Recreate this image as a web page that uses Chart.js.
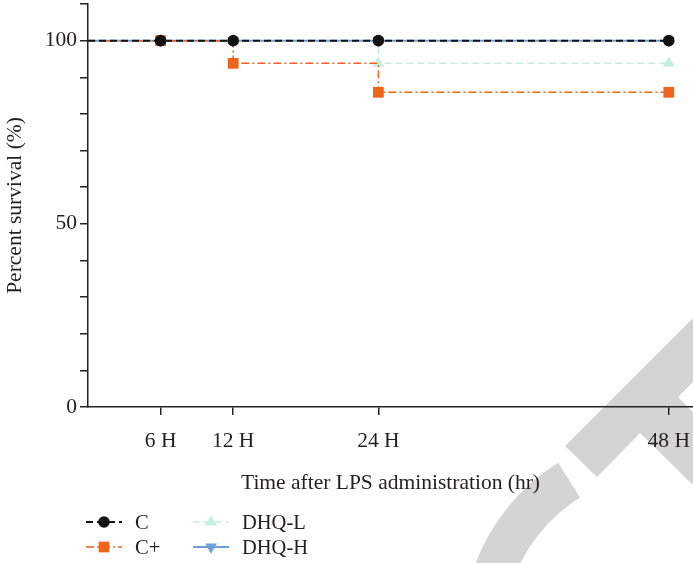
<!DOCTYPE html>
<html>
<head>
<meta charset="utf-8">
<script src="https://cdn.jsdelivr.net/npm/chart.js@4"></script>
<style>
  html, body { margin: 0; padding: 0; background: #fff; }
  #wrap { position: relative; width: 693px; height: 563px; overflow: hidden; }
  #chart { position: absolute; left: 0; top: 0; }
  .lg-item { position: absolute; display: flex; align-items: center; height: 24px;
             font-family: 'Liberation Serif', 'DejaVu Serif', serif; font-size: 20.5px; color: #231f20; }
  .lg-item canvas { display: block; margin-right: 13px; }
</style>
</head>
<body>
<div id="wrap">
  <canvas id="chart" width="693" height="563"></canvas>
  <div id="legend"></div>
</div>
<script>
// ── datos ──
const hours      = [0, 6, 12, 24, 48];
const tickHours  = [6, 12, 24, 48];
const yLabelVals = [0, 50, 100];
const seriesNames = ['C', 'C+', 'DHQ-L', 'DHQ-H'];
const survC      = [100, 100, 100, 100, 100];
const survCplus  = [100, 100, 93.8, 85.9, 85.9];
const survDhqL   = [100, 100, 100, 93.8, 93.8];
const survDhqH   = [100, 100, 100, 100, 100];

const FONT = "'Liberation Serif', 'DejaVu Serif', serif";
const INK  = '#231f20';

const pts = vals => hours.map((h, i) => ({ x: h, y: vals[i] }));
const radii = r => hours.map(h => (h === 0 ? 0 : r));

const styles = [
  { color: '#111111', dash: [7, 4],        width: 2,   point: 'circle',   r: 5.8, rot: 0 },
  { color: '#f0641c', dash: [8, 3, 2, 3],  width: 1.5, point: 'rect',     r: 7.6, rot: 0 },
  { color: '#c4efdf', dash: [7, 4],        width: 1.5, point: 'triangle', r: 6.8, rot: 0 },
  { color: '#6b9fd6', dash: [],            width: 2,   point: 'triangle', r: 6.8, rot: 180 }
];
const series = [survC, survCplus, survDhqL, survDhqH];

const datasets = series.map((vals, i) => ({
  label: seriesNames[i],
  data: pts(vals),
  stepped: true,
  borderColor: styles[i].color,
  backgroundColor: styles[i].color,
  borderWidth: styles[i].width,
  borderDash: styles[i].dash,
  pointStyle: styles[i].point,
  pointRotation: styles[i].rot,
  pointRadius: radii(styles[i].r),
  pointBorderWidth: 0,
  pointBackgroundColor: styles[i].color,
  clip: false
}));

// marca de agua gris (decorativa)
const watermark = {
  id: 'watermark',
  beforeDraw(chart) {
    const ctx = chart.ctx;
    ctx.save();
    ctx.fillStyle = '#d4d4d4';
    ctx.beginPath();
    ctx.moveTo(565, 446);
    ctx.lineTo(693, 318);
    ctx.lineTo(693, 382);
    ctx.lineTo(678, 397);
    ctx.lineTo(693, 412);
    ctx.lineTo(693, 485);
    ctx.lineTo(640, 433);
    ctx.lineTo(597, 477);
    ctx.closePath();
    ctx.fill();
    ctx.strokeStyle = '#d4d4d4';
    ctx.lineWidth = 41;
    ctx.beginPath();
    ctx.arc(668, 637, 185.5, Math.PI * 0.8, Math.PI * 1.321);
    ctx.stroke();
    ctx.restore();
  }
};

const chart = new Chart(document.getElementById('chart'), {
  type: 'line',
  data: { datasets },
  plugins: [watermark],
  options: {
    responsive: false,
    animation: false,
    layout: { autoPadding: false, padding: { top: 4, right: 0, bottom: 0, left: 0 } },
    plugins: { legend: { display: false }, tooltip: { enabled: false } },
    scales: {
      x: {
        type: 'linear',
        min: 0,
        max: 50,
        afterBuildTicks: s => { s.ticks = tickHours.map(v => ({ value: v })); },
        afterFit: s => { s.height = 156; s.paddingLeft = 0; s.paddingRight = 0; },
        ticks: {
          callback: v => v + ' H',
          font: { family: FONT, size: 21.5 },
          color: INK,
          padding: 13,
          maxRotation: 0
        },
        grid: { drawOnChartArea: false, tickLength: 8, tickColor: '#222', lineWidth: 1.5 },
        border: { display: true, color: '#222', width: 1.5 },
        title: {
          display: true,
          text: 'Time after LPS administration (hr)',
          font: { family: FONT, size: 21.5 },
          color: INK,
          padding: { top: 0, bottom: 67 }
        }
      },
      y: {
        min: 0,
        max: 110,
        afterFit: s => { s.width = 88; s.paddingTop = 0; s.paddingBottom = 0; },
        ticks: {
          stepSize: 10,
          callback: v => (yLabelVals.includes(v) ? String(v) : ''),
          font: { family: FONT, size: 21.5 },
          color: INK,
          padding: 3
        },
        grid: { drawOnChartArea: false, tickLength: 8, tickColor: '#222', lineWidth: 1.5 },
        border: { display: true, color: '#222', width: 1.5 },
        title: {
          display: true,
          text: 'Percent survival (%)',
          font: { family: FONT, size: 21.5 },
          color: INK,
          padding: { top: 2, bottom: 0 }
        }
      }
    }
  }
});

// ── leyenda HTML ──
function drawSymbol(cv, st) {
  const c = cv.getContext('2d');
  const w = cv.width, h = cv.height, cy = h / 2;
  c.strokeStyle = st.color;
  c.lineWidth = st.width;
  c.setLineDash(st.dash);
  c.beginPath();
  c.moveTo(0, cy);
  c.lineTo(w, cy);
  c.stroke();
  c.setLineDash([]);
  c.fillStyle = st.color;
  const x = w / 2, r = st.r;
  c.beginPath();
  if (st.point === 'circle') {
    c.arc(x, cy, r, 0, Math.PI * 2);
  } else if (st.point === 'rect') {
    const s = r * Math.SQRT1_2;
    c.rect(x - s, cy - s, 2 * s, 2 * s);
  } else {
    const dir = st.rot ? -1 : 1;
    c.moveTo(x, cy - dir * r);
    c.lineTo(x - r * 0.866, cy + dir * r / 2);
    c.lineTo(x + r * 0.866, cy + dir * r / 2);
    c.closePath();
  }
  c.fill();
}

const legendPos = [
  { left: 86,  top: 510 },
  { left: 86,  top: 535 },
  { left: 193, top: 510 },
  { left: 193, top: 535 }
];
const legendEl = document.getElementById('legend');
seriesNames.forEach((name, i) => {
  const item = document.createElement('div');
  item.className = 'lg-item';
  item.style.left = legendPos[i].left + 'px';
  item.style.top = legendPos[i].top + 'px';
  const cv = document.createElement('canvas');
  cv.width = 36; cv.height = 22;
  drawSymbol(cv, styles[i]);
  const span = document.createElement('span');
  span.textContent = name;
  item.appendChild(cv);
  item.appendChild(span);
  legendEl.appendChild(item);
});
</script>
</body>
</html>
